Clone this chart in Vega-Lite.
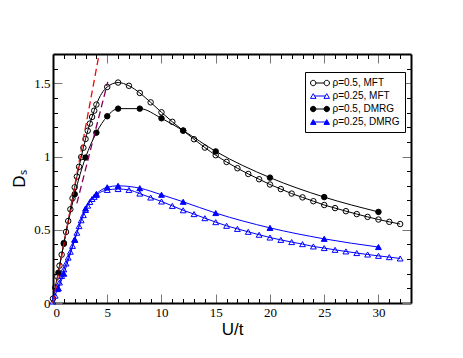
{
  "$schema": "https://vega.github.io/schema/vega-lite/v6.json",
  "width": 358,
  "height": 249,
  "autosize": "none",
  "padding": {"left": 53, "top": 54, "right": 52, "bottom": 55},
  "config": {"view": {"stroke": null}, "font": "Liberation Sans",
    "legend": {"title": null, "orient": "none", "legendX": 252, "legendY": 18, "strokeColor": "black", "fillColor": "white", "padding": 5, "labelFont": "Liberation Sans", "labelFontSize": 10, "labelColor": "black", "labelOffset": 10.5, "symbolSize": 121, "symbolStrokeWidth": 1, "symbolOpacity": 1, "rowPadding": 2}},
  "datasets": {
    "series": [
      {"s": "ρ=0.5, MFT", "U": 0, "D": 0.03}, {"s": "ρ=0.5, MFT", "U": 0.2, "D": 0.105}, {"s": "ρ=0.5, MFT", "U": 0.4, "D": 0.18}, {"s": "ρ=0.5, MFT", "U": 0.6, "D": 0.255}, {"s": "ρ=0.5, MFT", "U": 0.8, "D": 0.33}, {"s": "ρ=0.5, MFT", "U": 1.0, "D": 0.41}, {"s": "ρ=0.5, MFT", "U": 1.2, "D": 0.485}, {"s": "ρ=0.5, MFT", "U": 1.4, "D": 0.56}, {"s": "ρ=0.5, MFT", "U": 1.6, "D": 0.64}, {"s": "ρ=0.5, MFT", "U": 1.8, "D": 0.715}, {"s": "ρ=0.5, MFT", "U": 2.0, "D": 0.79}, {"s": "ρ=0.5, MFT", "U": 2.2, "D": 0.863}, {"s": "ρ=0.5, MFT", "U": 2.4, "D": 0.93}, {"s": "ρ=0.5, MFT", "U": 2.6, "D": 0.996}, {"s": "ρ=0.5, MFT", "U": 2.8, "D": 1.06}, {"s": "ρ=0.5, MFT", "U": 3.0, "D": 1.12}, {"s": "ρ=0.5, MFT", "U": 3.2, "D": 1.176}, {"s": "ρ=0.5, MFT", "U": 3.4, "D": 1.225}, {"s": "ρ=0.5, MFT", "U": 3.6, "D": 1.27}, {"s": "ρ=0.5, MFT", "U": 3.8, "D": 1.313}, {"s": "ρ=0.5, MFT", "U": 4.0, "D": 1.355}, {"s": "ρ=0.5, MFT", "U": 5, "D": 1.475}, {"s": "ρ=0.5, MFT", "U": 6, "D": 1.505}, {"s": "ρ=0.5, MFT", "U": 7, "D": 1.483}, {"s": "ρ=0.5, MFT", "U": 8, "D": 1.434}, {"s": "ρ=0.5, MFT", "U": 9, "D": 1.37}, {"s": "ρ=0.5, MFT", "U": 10, "D": 1.302}, {"s": "ρ=0.5, MFT", "U": 11, "D": 1.237}, {"s": "ρ=0.5, MFT", "U": 12, "D": 1.177}, {"s": "ρ=0.5, MFT", "U": 13, "D": 1.118}, {"s": "ρ=0.5, MFT", "U": 14, "D": 1.061}, {"s": "ρ=0.5, MFT", "U": 15, "D": 1.009}, {"s": "ρ=0.5, MFT", "U": 16, "D": 0.963}, {"s": "ρ=0.5, MFT", "U": 17, "D": 0.92}, {"s": "ρ=0.5, MFT", "U": 18, "D": 0.881}, {"s": "ρ=0.5, MFT", "U": 19, "D": 0.845}, {"s": "ρ=0.5, MFT", "U": 20, "D": 0.809}, {"s": "ρ=0.5, MFT", "U": 21, "D": 0.778}, {"s": "ρ=0.5, MFT", "U": 22, "D": 0.747}, {"s": "ρ=0.5, MFT", "U": 23, "D": 0.721}, {"s": "ρ=0.5, MFT", "U": 24, "D": 0.695}, {"s": "ρ=0.5, MFT", "U": 25, "D": 0.669}, {"s": "ρ=0.5, MFT", "U": 26, "D": 0.648}, {"s": "ρ=0.5, MFT", "U": 27, "D": 0.627}, {"s": "ρ=0.5, MFT", "U": 28, "D": 0.607}, {"s": "ρ=0.5, MFT", "U": 29, "D": 0.588}, {"s": "ρ=0.5, MFT", "U": 30, "D": 0.57}, {"s": "ρ=0.5, MFT", "U": 31, "D": 0.554}, {"s": "ρ=0.5, MFT", "U": 32, "D": 0.539},
      {"s": "ρ=0.25, MFT", "U": 0, "D": 0.01}, {"s": "ρ=0.25, MFT", "U": 0.2, "D": 0.05}, {"s": "ρ=0.25, MFT", "U": 0.4, "D": 0.095}, {"s": "ρ=0.25, MFT", "U": 0.6, "D": 0.14}, {"s": "ρ=0.25, MFT", "U": 0.8, "D": 0.185}, {"s": "ρ=0.25, MFT", "U": 1.0, "D": 0.23}, {"s": "ρ=0.25, MFT", "U": 1.2, "D": 0.27}, {"s": "ρ=0.25, MFT", "U": 1.4, "D": 0.31}, {"s": "ρ=0.25, MFT", "U": 1.6, "D": 0.35}, {"s": "ρ=0.25, MFT", "U": 1.8, "D": 0.39}, {"s": "ρ=0.25, MFT", "U": 2.0, "D": 0.435}, {"s": "ρ=0.25, MFT", "U": 2.2, "D": 0.48}, {"s": "ρ=0.25, MFT", "U": 2.4, "D": 0.525}, {"s": "ρ=0.25, MFT", "U": 2.6, "D": 0.565}, {"s": "ρ=0.25, MFT", "U": 2.8, "D": 0.6}, {"s": "ρ=0.25, MFT", "U": 3.0, "D": 0.635}, {"s": "ρ=0.25, MFT", "U": 3.2, "D": 0.665}, {"s": "ρ=0.25, MFT", "U": 3.4, "D": 0.69}, {"s": "ρ=0.25, MFT", "U": 3.6, "D": 0.71}, {"s": "ρ=0.25, MFT", "U": 3.8, "D": 0.725}, {"s": "ρ=0.25, MFT", "U": 4.0, "D": 0.738}, {"s": "ρ=0.25, MFT", "U": 5, "D": 0.772}, {"s": "ρ=0.25, MFT", "U": 6, "D": 0.778}, {"s": "ρ=0.25, MFT", "U": 7, "D": 0.772}, {"s": "ρ=0.25, MFT", "U": 8, "D": 0.747}, {"s": "ρ=0.25, MFT", "U": 9, "D": 0.72}, {"s": "ρ=0.25, MFT", "U": 10, "D": 0.693}, {"s": "ρ=0.25, MFT", "U": 11, "D": 0.663}, {"s": "ρ=0.25, MFT", "U": 12, "D": 0.633}, {"s": "ρ=0.25, MFT", "U": 13, "D": 0.607}, {"s": "ρ=0.25, MFT", "U": 14, "D": 0.579}, {"s": "ρ=0.25, MFT", "U": 15, "D": 0.552}, {"s": "ρ=0.25, MFT", "U": 16, "D": 0.527}, {"s": "ρ=0.25, MFT", "U": 17, "D": 0.506}, {"s": "ρ=0.25, MFT", "U": 18, "D": 0.486}, {"s": "ρ=0.25, MFT", "U": 19, "D": 0.466}, {"s": "ρ=0.25, MFT", "U": 20, "D": 0.447}, {"s": "ρ=0.25, MFT", "U": 21, "D": 0.431}, {"s": "ρ=0.25, MFT", "U": 22, "D": 0.416}, {"s": "ρ=0.25, MFT", "U": 23, "D": 0.402}, {"s": "ρ=0.25, MFT", "U": 24, "D": 0.386}, {"s": "ρ=0.25, MFT", "U": 25, "D": 0.375}, {"s": "ρ=0.25, MFT", "U": 26, "D": 0.363}, {"s": "ρ=0.25, MFT", "U": 27, "D": 0.352}, {"s": "ρ=0.25, MFT", "U": 28, "D": 0.341}, {"s": "ρ=0.25, MFT", "U": 29, "D": 0.331}, {"s": "ρ=0.25, MFT", "U": 30, "D": 0.322}, {"s": "ρ=0.25, MFT", "U": 31, "D": 0.313}, {"s": "ρ=0.25, MFT", "U": 32, "D": 0.304},
      {"s": "ρ=0.5, DMRG", "U": 0.5, "D": 0.207}, {"s": "ρ=0.5, DMRG", "U": 1, "D": 0.404}, {"s": "ρ=0.5, DMRG", "U": 2, "D": 0.743}, {"s": "ρ=0.5, DMRG", "U": 3, "D": 0.993}, {"s": "ρ=0.5, DMRG", "U": 4, "D": 1.163}, {"s": "ρ=0.5, DMRG", "U": 5, "D": 1.275}, {"s": "ρ=0.5, DMRG", "U": 6, "D": 1.327}, {"s": "ρ=0.5, DMRG", "U": 8, "D": 1.327}, {"s": "ρ=0.5, DMRG", "U": 10, "D": 1.261}, {"s": "ρ=0.5, DMRG", "U": 12, "D": 1.177}, {"s": "ρ=0.5, DMRG", "U": 15, "D": 1.035}, {"s": "ρ=0.5, DMRG", "U": 20, "D": 0.856}, {"s": "ρ=0.5, DMRG", "U": 25, "D": 0.723}, {"s": "ρ=0.5, DMRG", "U": 30, "D": 0.622},
      {"s": "ρ=0.25, DMRG", "U": 0.5, "D": 0.1}, {"s": "ρ=0.25, DMRG", "U": 1, "D": 0.2}, {"s": "ρ=0.25, DMRG", "U": 2, "D": 0.43}, {"s": "ρ=0.25, DMRG", "U": 3, "D": 0.645}, {"s": "ρ=0.25, DMRG", "U": 4, "D": 0.745}, {"s": "ρ=0.25, DMRG", "U": 5, "D": 0.79}, {"s": "ρ=0.25, DMRG", "U": 6, "D": 0.8}, {"s": "ρ=0.25, DMRG", "U": 8, "D": 0.784}, {"s": "ρ=0.25, DMRG", "U": 10, "D": 0.739}, {"s": "ρ=0.25, DMRG", "U": 12, "D": 0.691}, {"s": "ρ=0.25, DMRG", "U": 15, "D": 0.614}, {"s": "ρ=0.25, DMRG", "U": 20, "D": 0.513}, {"s": "ρ=0.25, DMRG", "U": 25, "D": 0.438}, {"s": "ρ=0.25, DMRG", "U": 30, "D": 0.382}
    ],
    "red": [{"U": 0, "D": 0}, {"U": 4.25, "D": 1.7}],
    "purple": [{"U": 2.2, "D": 0.68}, {"U": 5.05, "D": 1.51}]
  },
  "layer": [
    {
      "data": {"name": "series"},
      "transform": [{"filter": "datum.U < -1"}],
      "mark": {"type": "point", "strokeWidth": 1, "opacity": 1},
      "encoding": {
        "x": {"field": "U", "type": "quantitative", "scale": {"domain": [0, 33], "nice": false, "zero": false}, "axis": null},
        "y": {"field": "D", "type": "quantitative", "scale": {"domain": [0, 1.7], "nice": false, "zero": false}, "axis": null},
        "shape": {"field": "s", "type": "nominal",
          "scale": {"domain": ["ρ=0.5, MFT", "ρ=0.25, MFT", "ρ=0.5, DMRG", "ρ=0.25, DMRG"], "range": [
            "M-1,0 A0.49,0.49 0 1,1 -0.02,0 A0.49,0.49 0 1,1 -1,0 Z M-0.02,0 L1.47,0 M1.47,0 A0.49,0.49 0 1,1 2.45,0 A0.49,0.49 0 1,1 1.47,0 Z",
            "M-1,0.433 L0,0.433 L-0.5,-0.433 Z M-0.25,0 L1.7,0 M1.45,0.433 L2.45,0.433 L1.95,-0.433 Z",
            "M-1,0 A0.49,0.49 0 1,1 -0.02,0 A0.49,0.49 0 1,1 -1,0 Z M-0.02,0 L1.47,0 M1.47,0 A0.49,0.49 0 1,1 2.45,0 A0.49,0.49 0 1,1 1.47,0 Z",
            "M-1,0.433 L0,0.433 L-0.5,-0.433 Z M-0.25,0 L1.7,0 M1.45,0.433 L2.45,0.433 L1.95,-0.433 Z"]}},
        "fill": {"field": "s", "type": "nominal",
          "scale": {"domain": ["ρ=0.5, MFT", "ρ=0.25, MFT", "ρ=0.5, DMRG", "ρ=0.25, DMRG"], "range": ["transparent", "transparent", "black", "#0000ff"]}},
        "stroke": {"field": "s", "type": "nominal",
          "scale": {"domain": ["ρ=0.5, MFT", "ρ=0.25, MFT", "ρ=0.5, DMRG", "ρ=0.25, DMRG"], "range": ["black", "#0000ff", "black", "#0000ff"]}}
      }
    },
    {
      "data": {"name": "series"},
      "mark": {"type": "line", "interpolate": "monotone", "strokeWidth": 1},
      "encoding": {
        "x": {"field": "U", "type": "quantitative", "scale": {"domain": [0, 33], "nice": false, "zero": false},
          "axis": {"orient": "bottom", "values": [0, 5, 10, 15, 20, 25, 30], "format": "d", "title": "U/t", "titleFont": "Liberation Sans", "titleFontSize": 17, "titleFontWeight": "normal", "titleColor": "black", "titlePadding": 2, "labelFont": "Liberation Serif", "labelFontSize": 13, "labelColor": "black", "tickSize": -9, "tickColor": "#777", "tickWidth": 1, "labelPadding": 12, "domainColor": "black", "domainWidth": 2, "grid": false}},
        "y": {"field": "D", "type": "quantitative", "scale": {"domain": [0, 1.7], "nice": false, "zero": false},
          "axis": {"orient": "left", "values": [0, 0.5, 1, 1.5], "format": ".1~f", "title": "Dₛ", "titleFont": "Liberation Sans", "titleFontSize": 17, "titleFontWeight": "normal", "titleColor": "black", "titlePadding": 5, "labelFont": "Liberation Serif", "labelFontSize": 13, "labelColor": "black", "tickSize": -9, "tickColor": "#777", "tickWidth": 1, "labelPadding": 12, "domainColor": "black", "domainWidth": 2, "grid": false}},
        "stroke": {"field": "s", "type": "nominal",
          "scale": {"domain": ["ρ=0.5, MFT", "ρ=0.25, MFT", "ρ=0.5, DMRG", "ρ=0.25, DMRG"], "range": ["black", "#0000ff", "black", "#0000ff"]}}
      }
    },
    {
      "data": {"name": "series"},
      "transform": [{"filter": "indexof(datum.s, '0.25') < 0"}],
      "mark": {"type": "point", "shape": "circle", "size": 30, "strokeWidth": 1, "opacity": 1},
      "encoding": {
        "x": {"field": "U", "type": "quantitative", "scale": {"domain": [0, 33], "nice": false, "zero": false},
          "axis": {"orient": "bottom", "values": [1, 2, 3, 4, 6, 7, 8, 9, 11, 12, 13, 14, 16, 17, 18, 19, 21, 22, 23, 24, 26, 27, 28, 29, 31, 32], "labels": false, "title": null, "domain": false, "grid": false, "tickSize": -4.5, "tickColor": "black", "tickWidth": 1}},
        "y": {"field": "D", "type": "quantitative", "scale": {"domain": [0, 1.7], "nice": false, "zero": false},
          "axis": {"orient": "left", "values": [0.1, 0.2, 0.3, 0.4, 0.6, 0.7, 0.8, 0.9, 1.1, 1.2, 1.3, 1.4, 1.6], "labels": false, "title": null, "domain": false, "grid": false, "tickSize": -4.5, "tickColor": "black", "tickWidth": 1}},
        "fill": {"field": "s", "type": "nominal",
          "scale": {"domain": ["ρ=0.5, MFT", "ρ=0.25, MFT", "ρ=0.5, DMRG", "ρ=0.25, DMRG"], "range": ["transparent", "transparent", "black", "#0000ff"]}},
        "stroke": {"field": "s", "type": "nominal",
          "scale": {"domain": ["ρ=0.5, MFT", "ρ=0.25, MFT", "ρ=0.5, DMRG", "ρ=0.25, DMRG"], "range": ["black", "#0000ff", "black", "#0000ff"]}}
      }
    },
    {
      "data": {"name": "series"},
      "transform": [{"filter": "indexof(datum.s, '0.25') >= 0"}],
      "mark": {"type": "point", "shape": "triangle-up", "size": 34, "strokeWidth": 1, "opacity": 1},
      "encoding": {
        "x": {"field": "U", "type": "quantitative", "scale": {"domain": [0, 33], "nice": false, "zero": false}, "axis": null},
        "y": {"field": "D", "type": "quantitative", "scale": {"domain": [0, 1.7], "nice": false, "zero": false}, "axis": null},
        "fill": {"field": "s", "type": "nominal",
          "scale": {"domain": ["ρ=0.5, MFT", "ρ=0.25, MFT", "ρ=0.5, DMRG", "ρ=0.25, DMRG"], "range": ["transparent", "transparent", "black", "#0000ff"]}},
        "stroke": {"field": "s", "type": "nominal",
          "scale": {"domain": ["ρ=0.5, MFT", "ρ=0.25, MFT", "ρ=0.5, DMRG", "ρ=0.25, DMRG"], "range": ["black", "#0000ff", "black", "#0000ff"]}}
      }
    },
    {
      "data": {"name": "red"},
      "mark": {"type": "line", "stroke": "#ff0000", "strokeWidth": 1.3, "strokeDash": [7, 4]},
      "encoding": {
        "x": {"field": "U", "type": "quantitative", "scale": {"domain": [0, 33], "nice": false, "zero": false},
          "axis": {"orient": "top", "values": [0, 5, 10, 15, 20, 25, 30], "labels": false, "title": null, "tickSize": -9, "tickColor": "#777", "tickWidth": 1, "domainColor": "black", "domainWidth": 2, "grid": false}},
        "y": {"field": "D", "type": "quantitative", "scale": {"domain": [0, 1.7], "nice": false, "zero": false},
          "axis": {"orient": "right", "values": [0, 0.5, 1, 1.5], "labels": false, "title": null, "tickSize": -9, "tickColor": "#777", "tickWidth": 1, "domainColor": "black", "domainWidth": 2, "grid": false}}
      }
    },
    {
      "data": {"name": "purple"},
      "mark": {"type": "line", "stroke": "#800060", "strokeWidth": 1.3, "strokeDash": [7, 4]},
      "encoding": {
        "x": {"field": "U", "type": "quantitative", "scale": {"domain": [0, 33], "nice": false, "zero": false},
          "axis": {"orient": "top", "values": [1, 2, 3, 4, 6, 7, 8, 9, 11, 12, 13, 14, 16, 17, 18, 19, 21, 22, 23, 24, 26, 27, 28, 29, 31, 32], "labels": false, "title": null, "domain": false, "grid": false, "tickSize": -4.5, "tickColor": "black", "tickWidth": 1}},
        "y": {"field": "D", "type": "quantitative", "scale": {"domain": [0, 1.7], "nice": false, "zero": false},
          "axis": {"orient": "right", "values": [0.1, 0.2, 0.3, 0.4, 0.6, 0.7, 0.8, 0.9, 1.1, 1.2, 1.3, 1.4, 1.6], "labels": false, "title": null, "domain": false, "grid": false, "tickSize": -4.5, "tickColor": "black", "tickWidth": 1}}
      }
    }
  ],
  "resolve": {"axis": {"x": "independent", "y": "independent"}}
}
